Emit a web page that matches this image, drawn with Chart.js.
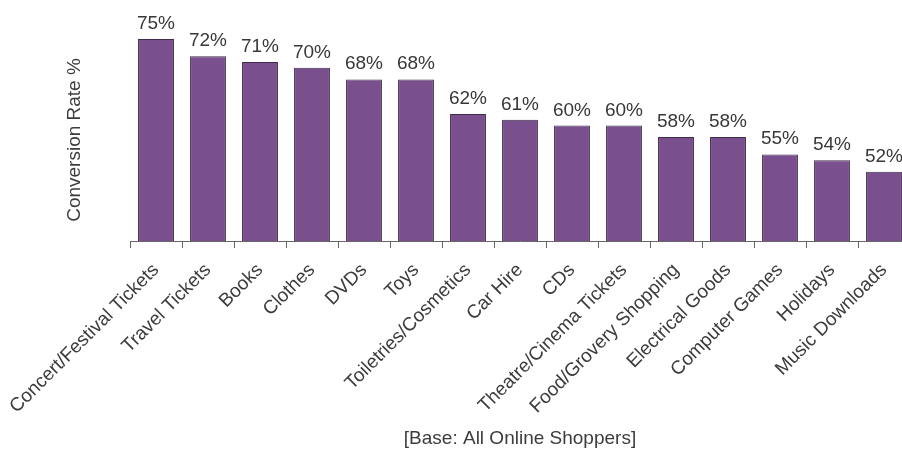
<!DOCTYPE html>
<html>
<head>
<meta charset="utf-8">
<script src="https://cdn.jsdelivr.net/npm/chart.js@4/dist/chart.umd.min.js"></script>
<style>
  html, body { margin: 0; padding: 0; background: #fff; overflow: hidden; }
  #wrap { width: 910px; height: 450px; }
</style>
</head>
<body>
<div id="wrap"><canvas id="rateChart"></canvas></div>
<script>
// Daten
const categories = ['Concert/Festival Tickets', 'Travel Tickets', 'Books', 'Clothes', 'DVDs', 'Toys',
  'Toiletries/Cosmetics', 'Car Hire', 'CDs', 'Theatre/Cinema Tickets', 'Food/Grovery Shopping',
  'Electrical Goods', 'Computer Games', 'Holidays', 'Music Downloads'];
const conversionRates = [75, 72, 71, 70, 68, 68, 62, 61, 60, 60, 58, 58, 55, 54, 52];
const yAxisTitle = 'Conversion Rate %';
const xAxisTitle = '[Base: All Online Shoppers]';

const textFont = { family: '"Liberation Sans", Arial, sans-serif', size: 19 };

// Prozentwerte über den Balken
const valueLabels = {
  id: 'valueLabels',
  afterDatasetsDraw(chart) {
    const c = chart.ctx;
    const meta = chart.getDatasetMeta(0);
    c.save();
    c.font = '19px "Liberation Sans", Arial, sans-serif';
    c.fillStyle = '#383838';
    c.textAlign = 'center';
    c.textBaseline = 'alphabetic';
    meta.data.forEach((bar, i) => {
      c.fillText(conversionRates[i] + '%', bar.x, bar.y - 10);
    });
    c.restore();
  }
};

const ctx = document.getElementById('rateChart').getContext('2d');
const rateChart = new Chart(ctx, {
  type: 'bar',
  data: {
    labels: categories,
    datasets: [{
      data: conversionRates,
      base: 40,
      backgroundColor: '#7a4f8e',
      borderColor: '#3e2c48',
      borderWidth: 1,
      borderSkipped: 'bottom',
      barPercentage: 0.69,
      categoryPercentage: 1,
      clip: false
    }]
  },
  options: {
    responsive: true,
    maintainAspectRatio: false,
    animation: false,
    layout: { padding: { top: 39, left: 59, right: 0, bottom: 0 } },
    plugins: {
      legend: { display: false },
      tooltip: { enabled: false }
    },
    scales: {
      x: {
        offset: true,
        grid: { display: true, drawOnChartArea: false, drawTicks: true, tickLength: 7, color: '#666', offset: true },
        border: { display: true, color: '#666', width: 1 },
        ticks: { color: '#3c3c3c', font: textFont, minRotation: 45, maxRotation: 45, autoSkip: false, padding: 11 },
        title: { display: true, text: xAxisTitle, color: '#3c3c3c', font: textFont, padding: { top: 4, bottom: 0 } },
        afterFit(scale) {
          scale.height = 209;
          scale.paddingLeft = 0;
          scale.paddingRight = 0;
        }
      },
      y: {
        min: 40,
        max: 75,
        grid: { display: false },
        border: { display: false },
        ticks: { display: false },
        title: { display: true, text: yAxisTitle, color: '#3c3c3c', font: textFont, padding: { top: 4, bottom: 4 } },
        afterFit(scale) { scale.width = 71; }
      }
    }
  },
  plugins: [valueLabels]
});
</script>
</body>
</html>
